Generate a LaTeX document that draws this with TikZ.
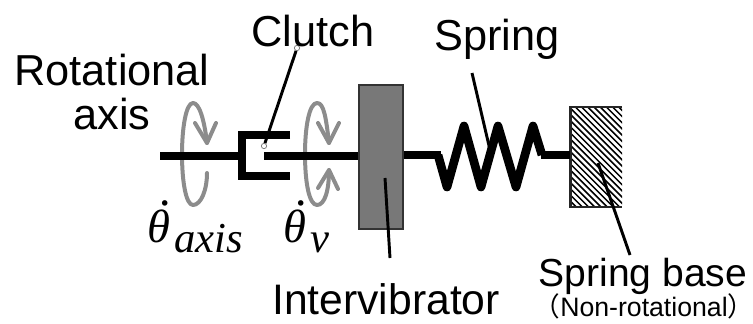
\documentclass[tikz,border=0pt]{standalone}
\usepackage{fontspec}
\setmainfont{Liberation Sans}
\newfontfamily\cjkfont{Noto Sans CJK JP}
\newfontfamily\symfont{Liberation Serif}
\newcommand{\dottheta}[1]{{\symfont\itshape\fontsize{35}{38}\selectfont θ\rlap{\hspace{-7.5pt}\raisebox{28pt}{.}}\hspace{3pt}\raisebox{-7.5pt}{\fontsize{32}{34}\selectfont #1}}}
\definecolor{rotgray}{gray}{0.55}
\definecolor{massgray}{gray}{0.47}
\tikzset{
  shaft/.style={line width=6pt,black,line cap=butt},
  rot/.style={line width=3pt,rotgray,line cap=round,line join=round},
  leader/.style={line width=2.2pt,black},
  lbl/.style={inner sep=0pt,font=\fontsize{32.5}{36}\selectfont,align=center},
  endpt/.style={circle,draw=gray,fill=white,line width=0.6pt,minimum size=4pt,inner sep=0pt},
  mathlbl/.style={inner sep=0pt,anchor=base west}
}
\begin{document}
\begin{tikzpicture}[x=0.75pt,y=-0.75pt]
\useasboundingbox (0,0) rectangle (753,324);
% coordinates
\coordinate (sL) at (160,156);
\coordinate (sC) at (242,156);
\coordinate (sR) at (264,156);
\coordinate (sS) at (441,155);
\coordinate (sE) at (541,155);
% rotation arrows
\draw[rot] (207,143) .. controls (204,118) and (199,103) .. (193,103) .. controls (186,103) and (182,128) .. (182,154) .. controls (182,182) and (186,205) .. (193,205) .. controls (201,205) and (207,190) .. (207,173);
\draw[rot] (195,123) -- (207,143) -- (216,123);
\draw[rot] (329,143) .. controls (326,118) and (324,103) .. (317,103) .. controls (309,103) and (305,128) .. (305,154) .. controls (305,182) and (309,205) .. (317,205) .. controls (325,205) and (329,190) .. (329,170);
\draw[rot] (318,123) -- (329,143) -- (339,123);
\draw[rot] (318,188) -- (329,170) -- (338,189);
% mass
\node[draw={black!80},fill=massgray,line width=2.2pt,minimum width=33pt,minimum height=108pt,inner sep=0pt] (mass) at (381,157) {};
% base
\coordinate (bTL) at (570.5,107);
\coordinate (bBR) at (622,207);
\begin{scope}
\clip (bTL) rectangle (bBR);
\foreach \i in {0,...,27}{
  \draw[line width=1.15pt] (453+\i*6.2,90) -- ++(130,130);
}
\end{scope}
\draw[line width=1.6pt,black!85] (622,107) -- (570.5,107) -- (570.5,207) -- (622,207);
% shafts
\draw[shaft] (sL) -- (sC);
\draw[shaft] (sR) -- (sR -| mass.west);
\draw[shaft] (290,134.7) -- (241.7,134.7) -- (241.7,176) -- (290,176);
\draw[shaft] (sS -| mass.east) -- (sS);
\draw[shaft] (sE) -- (570,155);
% spring
\draw[line width=6.5pt,line join=round,line cap=butt] (438,155) -- (447,187) -- (464,126) -- (481,187) -- (498,126) -- (516,187) -- (533,126) -- (542,155);
% leaders
\node[endpt] (cA) at (297,48) {};
\node[endpt] (cB) at (264,146) {};
\draw[leader] (cA) -- (cB);
\coordinate (spA) at (472,73);
\coordinate (spB) at (490,150);
\draw[leader] (spA) -- (spB);
\coordinate (bA) at (598,163);
\coordinate (bB) at (630,255);
\draw[leader] (bA) -- (bB);
\coordinate (iA) at (385,178);
\coordinate (iB) at (390,258);
\draw[leader] (iA) -- (iB);
% labels
\node[lbl,anchor=center] (rot) at (112,92) {Rotational\\[-3pt]axis};
\node[lbl] (clutch) at (313,31) {Clutch};
\node[lbl] (spring) at (497,39) {Spring};
\node[lbl,font=\fontsize{32}{36}\selectfont] (inter) at (386,299) {Intervibrator};
\node[inner sep=0pt,font=\fontsize{29.3}{32}\selectfont] (sb) at (643,276) {Spring base};
\node[inner sep=0pt,font=\fontsize{20}{22}\selectfont] (nr) at (644,306) {{\cjkfont （}Non-rotational{\cjkfont ）}};
\node[mathlbl] (ta) at (147,243) {\dottheta{axis}};
\node[mathlbl] (tv) at (283,243) {\dottheta{v}};
\end{tikzpicture}
\end{document}
